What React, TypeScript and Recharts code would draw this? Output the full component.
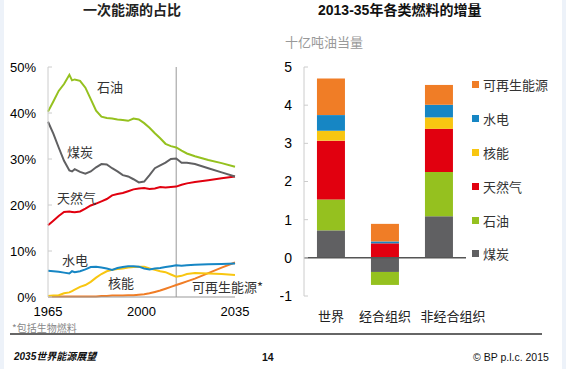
import React from "react";
import {
  LineChart,
  Line,
  BarChart,
  Bar,
  XAxis,
  YAxis,
  ReferenceLine,
} from "recharts";

// Left chart: share of primary energy (%)
const years = [
  1965, 1967, 1969, 1971, 1973, 1974, 1975, 1977, 1979, 1981, 1983, 1985, 1987,
  1989, 1991, 1993, 1995, 1997, 1999, 2001, 2003, 2005, 2007, 2009, 2011, 2013,
  2015, 2017, 2020, 2025, 2030, 2035,
];
const oilShare = [
  40.3, 42.5, 44.8, 46.3, 48.3, 47.1, 47.3, 47.0, 45.5, 43.0, 40.5, 39.2, 38.9,
  38.8, 38.6, 38.5, 38.3, 38.8, 38.6, 37.8, 36.8, 35.6, 34.5, 33.3, 32.8, 32.5,
  31.8, 31.2, 30.6, 29.8, 29.1, 28.3,
];
const coalShare = [
  38.1, 35.5, 32.5, 29.6, 27.5, 27.3, 27.8, 27.2, 26.8, 27.3, 28.2, 28.9, 28.8,
  28.0, 27.3, 26.5, 26.2, 25.6, 24.9, 25.1, 26.5, 28.0, 28.6, 29.2, 30.0, 30.1,
  29.2, 29.2, 28.9, 28.0, 27.1, 26.2,
];
const gasShare = [
  15.6, 16.6, 17.6, 18.5, 18.6, 18.5, 18.4, 18.6, 19.2, 19.9, 20.3, 20.8, 21.3,
  22.1, 22.4, 22.6, 23.0, 23.4, 23.6, 23.7, 23.5, 23.6, 23.9, 23.8, 23.9, 24.0,
  24.4, 24.7, 25.0, 25.4, 25.8, 26.2,
];
const hydroShare = [
  5.7, 5.6, 5.5, 5.3, 5.1, 5.6, 5.4, 5.6, 6.0, 6.5, 6.6, 6.4, 6.2, 5.9, 6.3, 6.5,
  6.7, 6.7, 6.6, 6.2, 6.0, 6.2, 6.3, 6.5, 6.7, 6.9, 6.8, 6.9, 7.0, 7.1, 7.2, 7.3,
];
const nuclearShare = [
  0.2, 0.3, 0.4, 0.8, 1.0, 1.3, 1.6, 2.2, 2.6, 3.3, 4.2, 5.0, 5.6, 5.9, 6.1, 6.2,
  6.4, 6.5, 6.6, 6.6, 6.2, 5.9, 5.6, 5.4, 4.9, 4.4, 4.6, 5.0, 5.2, 5.1, 5.0, 4.8,
];
const renewShare = [
  0.1, 0.1, 0.1, 0.1, 0.1, 0.1, 0.1, 0.1, 0.1, 0.1, 0.1, 0.2, 0.2, 0.3, 0.3, 0.3,
  0.4, 0.4, 0.5, 0.6, 0.8, 1.1, 1.4, 1.8, 2.2, 2.6, 3.0, 3.4, 4.0, 5.2, 6.4, 7.5,
];
const shareTicks = [0, 10, 20, 30, 40, 50];
const yearTicks = [1965, 2000, 2035];

// Right chart: increments 2013-35 (billion toe)
const regions = ["世界", "经合组织", "非经合组织"];
const coalInc = [0.72, -0.37, 1.09];
const oilInc = [0.81, -0.34, 1.16];
const gasInc = [1.54, 0.38, 1.13];
const nuclearInc = [0.26, 0, 0.3];
const hydroInc = [0.41, 0.05, 0.33];
const renewInc = [0.96, 0.46, 0.52];
const incTicks = [-1, 0, 1, 2, 3, 4, 5];

const shareData = years.map((year, i) => ({
  year,
  oil: oilShare[i],
  coal: coalShare[i],
  gas: gasShare[i],
  hydro: hydroShare[i],
  nuclear: nuclearShare[i],
  renew: renewShare[i],
}));

const incData = regions.map((name, i) => ({
  name,
  coal: coalInc[i],
  oil: oilInc[i],
  gas: gasInc[i],
  nuclear: nuclearInc[i],
  hydro: hydroInc[i],
  renew: renewInc[i],
}));

const NUM = "'Liberation Sans', Arial, sans-serif";
const CJK = "'Noto Sans CJK SC', sans-serif";

const colors = {
  oil: "#95c11f",
  coal: "#606062",
  gas: "#e1000f",
  hydro: "#1686c4",
  nuclear: "#f8c611",
  renew: "#f07d26",
};

// stacking order, bottom to top
const fuels = [
  { key: "coal", name: "煤炭" },
  { key: "oil", name: "石油" },
  { key: "gas", name: "天然气" },
  { key: "nuclear", name: "核能" },
  { key: "hydro", name: "水电" },
  { key: "renew", name: "可再生能源" },
];

const note = (text: string, left: number, top: number, extra = {}) => (
  <div
    style={{
      position: "absolute",
      left,
      top,
      fontFamily: CJK,
      fontSize: 13,
      lineHeight: "14px",
      color: "#333",
      whiteSpace: "nowrap",
      ...extra,
    }}
  >
    {text}
  </div>
);

function RegionTick(props: any) {
  const { x, y, payload, index } = props;
  const dx = index === regions.length - 1 ? 14 : 0;
  return (
    <text
      x={x + dx}
      y={y}
      dy="0.71em"
      textAnchor="middle"
      fontFamily={CJK}
      fontSize={13}
      fill="#222"
    >
      {payload.value}
    </text>
  );
}

export default function App() {
  return (
    <div
      style={{
        position: "fixed",
        left: 0,
        top: 0,
        width: 566,
        height: 369,
        background: "#edf2f9",
        overflow: "hidden",
      }}
    >
      <div
        style={{
          position: "absolute",
          left: 4,
          top: 0,
          width: 558,
          height: 369,
          background: "#fff",
        }}
      />

      {/* titles */}
      <div
        style={{
          position: "absolute",
          left: 83,
          top: 1,
          fontFamily: CJK,
          fontWeight: 700,
          fontSize: 14,
          lineHeight: "16px",
          color: "#222",
        }}
      >
        一次能源的占比
      </div>
      <div
        style={{
          position: "absolute",
          left: 318,
          top: 1,
          fontFamily: NUM,
          fontWeight: 700,
          fontSize: 14,
          lineHeight: "16px",
          color: "#111",
          whiteSpace: "nowrap",
        }}
      >
        2013-35<span style={{ fontFamily: CJK }}>年各类燃料的增量</span>
      </div>
      {note("十亿吨油当量", 285, 35, { color: "#999" })}

      {/* left chart */}
      <div style={{ position: "absolute", left: 0, top: 0 }}>
        <LineChart
          width={280}
          height={330}
          data={shareData}
          margin={{ top: 67, right: 45, bottom: 3, left: 0 }}
        >
          <XAxis
            dataKey="year"
            type="number"
            domain={[1965, 2035]}
            ticks={yearTicks}
            height={30}
            tickLine={false}
            tickMargin={4}
            axisLine={{ stroke: "#999" }}
            tick={{ fill: "#000", fontSize: 13, fontFamily: NUM }}
          />
          <YAxis
            width={48}
            domain={[0, 50]}
            ticks={shareTicks}
            tickFormatter={(v: number) => `${v}%`}
            tickSize={-4}
            tickMargin={16}
            axisLine={{ stroke: "#ccc" }}
            tickLine={{ stroke: "#ccc" }}
            tick={{ fill: "#000", fontSize: 13, fontFamily: NUM }}
          />
          <ReferenceLine x={2013} stroke="#aaa" strokeWidth={1.2} />
          <Line dataKey="renew" stroke={colors.renew} strokeWidth={2} dot={false} isAnimationActive={false} />
          <Line dataKey="nuclear" stroke={colors.nuclear} strokeWidth={2} dot={false} isAnimationActive={false} />
          <Line dataKey="hydro" stroke={colors.hydro} strokeWidth={2} dot={false} isAnimationActive={false} />
          <Line dataKey="gas" stroke={colors.gas} strokeWidth={2} dot={false} isAnimationActive={false} />
          <Line dataKey="coal" stroke={colors.coal} strokeWidth={2} dot={false} isAnimationActive={false} />
          <Line dataKey="oil" stroke={colors.oil} strokeWidth={2} dot={false} isAnimationActive={false} />
        </LineChart>
      </div>
      {note("石油", 97, 80)}
      {note("煤炭", 67, 145)}
      {note("天然气", 57, 191)}
      {note("水电", 62, 253)}
      {note("核能", 108, 276)}
      {note("可再生能源*", 192, 280)}

      {/* right chart */}
      <div style={{ position: "absolute", left: 280, top: 0 }}>
        <BarChart
          width={286}
          height={330}
          data={incData}
          stackOffset="sign"
          barCategoryGap="24%"
          margin={{ top: 67, right: 100, bottom: 4, left: 0 }}
        >
          <XAxis
            dataKey="name"
            height={30}
            axisLine={false}
            tickLine={false}
            tickMargin={10}
            interval={0}
            tick={<RegionTick />}
          />
          <YAxis
            width={24}
            domain={[-1, 5]}
            ticks={incTicks}
            tickSize={-4}
            tickMargin={16}
            axisLine={{ stroke: "#ccc" }}
            tickLine={{ stroke: "#ccc" }}
            tick={{ fill: "#000", fontSize: 14, fontFamily: NUM }}
          />
          {fuels.map((f) => (
            <Bar
              key={f.key}
              dataKey={f.key}
              name={f.name}
              stackId="a"
              fill={colors[f.key as keyof typeof colors]}
              isAnimationActive={false}
            />
          ))}
          <ReferenceLine y={0} stroke="#555" strokeWidth={1.5} />
        </BarChart>
      </div>

      {/* legend, top item is the top of the stack */}
      <div
        style={{
          position: "absolute",
          left: 472,
          top: 68,
          width: 79,
          overflow: "hidden",
        }}
      >
        {[...fuels].reverse().map((f) => (
          <div
            key={f.key}
            style={{
              height: 33.8,
              display: "flex",
              alignItems: "center",
              whiteSpace: "nowrap",
            }}
          >
            <span
              style={{
                width: 7,
                height: 7,
                background: colors[f.key as keyof typeof colors],
                marginRight: 4,
                flex: "none",
              }}
            />
            <span style={{ fontFamily: CJK, fontSize: 13, color: "#333" }}>
              {f.name}
            </span>
          </div>
        ))}
      </div>

      {/* footer */}
      <div
        style={{
          position: "absolute",
          left: 12,
          top: 322,
          fontFamily: CJK,
          fontSize: 10,
          lineHeight: "11px",
          color: "#888",
        }}
      >
        *包括生物燃料
      </div>
      <div
        style={{
          position: "absolute",
          left: 10,
          top: 333,
          width: 532,
          height: 1.5,
          background: "#666",
        }}
      />
      <div
        style={{
          position: "absolute",
          left: 14,
          top: 349,
          fontFamily: NUM,
          fontSize: 10,
          fontWeight: 700,
          fontStyle: "italic",
          lineHeight: "13px",
          color: "#111",
        }}
      >
        2035<span style={{ fontFamily: CJK }}>世界能源展望</span>
      </div>
      <div
        style={{
          position: "absolute",
          left: 262,
          top: 351,
          fontFamily: NUM,
          fontSize: 10.5,
          fontWeight: 700,
          lineHeight: "13px",
          color: "#111",
        }}
      >
        14
      </div>
      <div
        style={{
          position: "absolute",
          left: 473,
          top: 351,
          fontFamily: NUM,
          fontSize: 10.5,
          lineHeight: "13px",
          color: "#111",
          whiteSpace: "nowrap",
        }}
      >
        © BP p.l.c. 2015
      </div>
    </div>
  );
}
